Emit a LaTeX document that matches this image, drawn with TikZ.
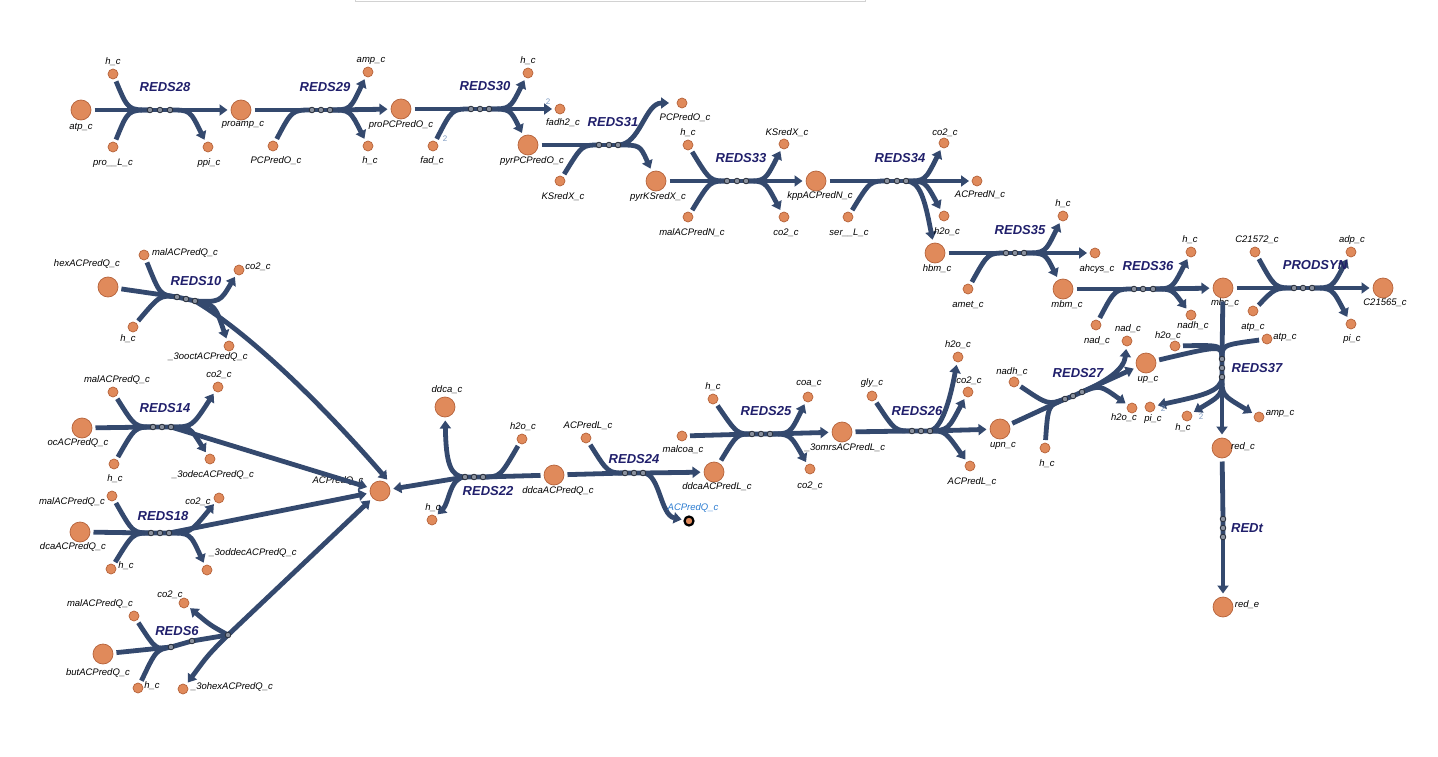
\documentclass[tikz,border=0pt]{standalone}
\usepackage{fontspec}
\setmainfont{Liberation Sans}
\usetikzlibrary{arrows.meta}

\definecolor{metfill}{HTML}{E08A5B}
\definecolor{metline}{HTML}{B5623A}
\definecolor{rxncol}{HTML}{34496E}
\definecolor{rlabcol}{HTML}{201F6B}
\definecolor{hubfill}{HTML}{8A919E}
\definecolor{hubline}{HTML}{262C38}
\definecolor{coefcol}{HTML}{7F9BC2}
\definecolor{linkblue}{HTML}{2A7BD0}

\begin{document}
\begin{tikzpicture}[
        x=1pt,
        y=-1pt,
        big/.style={circle, draw=metline, fill=metfill, line width=0.7pt,
            minimum size=20pt, inner sep=0pt, outer sep=3.5pt},
        small/.style={big, minimum size=10pt, outer sep=3pt},
        rxn/.style={draw=rxncol, line width=4.8pt},
        prod/.style={rxn, -{Triangle[length=8pt, width=11pt]}},
        hub/.style={circle, draw=hubline, fill=hubfill, line width=0.8pt,
            minimum size=5.6pt, inner sep=0pt},
        rlab/.style={font=\fontsize{13}{15}\selectfont\bfseries\itshape, text=rlabcol},
        mlab/.style={font=\fontsize{9.5}{10}\selectfont\itshape, inner sep=0pt},
        coef/.style={font=\fontsize{8}{9}\selectfont, text=coefcol, inner sep=0pt}
    ]
        \useasboundingbox (0,0) rectangle (1438,757);
        % edge of the search box at the top
        \draw[gray!35, line width=0.8pt] (355,0) -- (355,1.5) -- (865,1.5) -- (865,0);

        % ---------------- top row ----------------
        % REDS28
        \node[big] (atp) at (81,110) {};
        \node[small] (h28) at (113,74) {};
        \node[small] (proL) at (113,147) {};
        \node[big] (proamp) at (241,110) {};
        \node[small] (ppi) at (208,147) {};
        \coordinate (r28a) at (150,110); \coordinate (r28b) at (160,110); \coordinate (r28c) at (170,110);
        \draw[rxn] (atp) -- (r28a) -- (r28c);
        \draw[rxn] (h28) .. controls (128,110) .. (r28a);
        \draw[rxn] (proL) .. controls (128,110) .. (r28a);
        \draw[prod] (r28c) -- (proamp);
        \draw[prod] (r28c) .. controls (190,110) .. (ppi);
        \node[rlab] (l28) at (165,87) {REDS28};
        \node[mlab] (atpT) at (81,127) {atp\_c};
        \node[mlab] (h28T) at (113,62) {h\_c};
        \node[mlab] (proLT) at (113,163) {pro\_\_L\_c};
        \node[mlab] (proampT) at (243,125) {proamp\_c};
        \node[mlab] (ppiT) at (209,163) {ppi\_c};

        % REDS29
        \node[small] (pcpo29) at (273,146) {};
        \node[small] (amp) at (368,72) {};
        \node[small] (h29) at (368,146) {};
        \node[big] (propc) at (401,109) {};
        \coordinate (r29a) at (312,110); \coordinate (r29b) at (321,110); \coordinate (r29c) at (330,110);
        \draw[rxn] (proamp) -- (r29a) -- (r29c);
        \draw[rxn] (pcpo29) .. controls (292,110) .. (r29a);
        \draw[prod] (r29c) -- (propc);
        \draw[prod] (r29c) .. controls (350,110) .. (amp);
        \draw[prod] (r29c) .. controls (350,110) .. (h29);
        \node[rlab] (l29) at (325,87) {REDS29};
        \node[mlab] (pcpo29T) at (276,161) {PCPredO\_c};
        \node[mlab] (ampT) at (371,61) {amp\_c};
        \node[mlab] (h29T) at (370,161) {h\_c};
        \node[mlab] (propcT) at (401,125) {proPCPredO\_c};

        % REDS30
        \node[small] (fad) at (433,146) {};
        \node[small] (h30) at (528,73) {};
        \node[small] (fadh) at (560,109) {};
        \node[big] (pyrpc) at (528,145) {};
        \coordinate (r30a) at (471,109); \coordinate (r30b) at (480,109); \coordinate (r30c) at (489,109);
        \draw[rxn] (propc) -- (r30a) -- (r30c);
        \draw[rxn] (fad) .. controls (452,109) .. (r30a);
        \draw[prod] (r30c) -- (fadh);
        \draw[prod] (r30c) .. controls (510,109) .. (h30);
        \draw[prod] (r30c) .. controls (510,109) .. (pyrpc);
        \node[rlab] (l30) at (485,86) {REDS30};
        \node[coef] (fadN) at (445,139) {2};
        \node[coef] (fadhN) at (548,102) {2};
        \node[mlab] (fadT) at (432,161) {fad\_c};
        \node[mlab] (h30T) at (528,61) {h\_c};
        \node[mlab] (fadhT) at (563,123) {fadh2\_c};
        \node[mlab] (pyrpcT) at (532,161) {pyrPCPredO\_c};

        % REDS31
        \node[small] (ks31) at (560,181) {};
        \node[small] (pcpo31) at (682,103) {};
        \node[big] (pyrks) at (656,181) {};
        \coordinate (r31a) at (599,145); \coordinate (r31b) at (609,145); \coordinate (r31c) at (618,145);
        \draw[rxn] (pyrpc) -- (r31a) -- (r31c);
        \draw[rxn] (ks31) .. controls (582,145) .. (r31a);
        \draw[prod, shorten >=5pt] (r31c) .. controls (640,145) and (645,103) .. (pcpo31);
        \draw[prod] (r31c) .. controls (640,145) .. (pyrks);
        \node[rlab] (l31) at (613,122) {REDS31};
        \node[mlab] (ks31T) at (563,197) {KSredX\_c};
        \node[mlab] (pcpo31T) at (685,118) {PCPredO\_c};
        \node[mlab] (pyrksT) at (658,197) {pyrKSredX\_c};

        % REDS33
        \node[small] (h33) at (688,145) {};
        \node[small] (malN) at (688,217) {};
        \node[small] (ks33) at (784,144) {};
        \node[small] (co33) at (784,217) {};
        \node[big] (kpp) at (816,181) {};
        \coordinate (r33a) at (727,181); \coordinate (r33b) at (737,181); \coordinate (r33c) at (746,181);
        \draw[rxn] (pyrks) -- (r33a) -- (r33c);
        \draw[rxn] (h33) .. controls (710,181) .. (r33a);
        \draw[rxn] (malN) .. controls (710,181) .. (r33a);
        \draw[prod] (r33c) -- (kpp);
        \draw[prod] (r33c) .. controls (765,181) .. (ks33);
        \draw[prod] (r33c) .. controls (765,181) .. (co33);
        \node[rlab] (l33) at (741,158) {REDS33};
        \node[mlab] (h33T) at (688,133) {h\_c};
        \node[mlab] (malNT) at (692,233) {malACPredN\_c};
        \node[mlab] (ks33T) at (787,133) {KSredX\_c};
        \node[mlab] (co33T) at (786,233) {co2\_c};
        \node[mlab] (kppT) at (820,196) {kppACPredN\_c};

        % REDS34
        \node[small] (serL) at (848,217) {};
        \node[small] (co34) at (944,143) {};
        \node[small] (acpn) at (977,181) {};
        \node[small] (h2o34) at (944,216) {};
        \node[big] (hbm) at (935,253) {};
        \coordinate (r34a) at (887,181); \coordinate (r34b) at (897,181); \coordinate (r34c) at (906,181);
        \draw[rxn] (kpp) -- (r34a) -- (r34c);
        \draw[rxn] (serL) .. controls (870,181) .. (r34a);
        \draw[prod] (r34c) -- (acpn);
        \draw[prod] (r34c) .. controls (925,181) .. (co34);
        \draw[prod] (r34c) .. controls (925,181) .. (h2o34);
        \draw[prod] (r34c) .. controls (920,181) and (925,200) .. (hbm);
        \node[rlab] (l34) at (900,158) {REDS34};
        \node[mlab] (serLT) at (849,233) {ser\_\_L\_c};
        \node[mlab] (co34T) at (945,133) {co2\_c};
        \node[mlab] (acpnT) at (980,195) {ACPredN\_c};
        \node[mlab] (h2o34T) at (947,232) {h2o\_c};
        \node[mlab] (hbmT) at (937,269) {hbm\_c};

        % REDS35
        \node[small] (amet) at (968,289) {};
        \node[small] (h35) at (1063,216) {};
        \node[small] (ahcys) at (1095,253) {};
        \node[big] (mbm) at (1063,289) {};
        \coordinate (r35a) at (1006,253); \coordinate (r35b) at (1015,253); \coordinate (r35c) at (1024,253);
        \draw[rxn] (hbm) -- (r35a) -- (r35c);
        \draw[rxn] (amet) .. controls (988,253) .. (r35a);
        \draw[prod] (r35c) -- (ahcys);
        \draw[prod] (r35c) .. controls (1045,253) .. (h35);
        \draw[prod] (r35c) .. controls (1045,253) .. (mbm);
        \node[rlab] (l35) at (1020,230) {REDS35};
        \node[mlab] (ametT) at (968,305) {amet\_c};
        \node[mlab] (h35T) at (1063,204) {h\_c};
        \node[mlab] (ahcysT) at (1097,269) {ahcys\_c};
        \node[mlab] (mbmT) at (1067,305) {mbm\_c};

        % REDS36
        \node[small] (nad36) at (1096,325) {};
        \node[small] (h36) at (1191,252) {};
        \node[small] (nadh36) at (1191,315) {};
        \node[big] (mbc) at (1223,288) {};
        \coordinate (r36a) at (1134,289); \coordinate (r36b) at (1143,289); \coordinate (r36c) at (1153,289);
        \draw[rxn] (mbm) -- (r36a) -- (r36c);
        \draw[rxn] (nad36) .. controls (1115,289) .. (r36a);
        \draw[prod] (r36c) -- (mbc);
        \draw[prod] (r36c) .. controls (1172,289) .. (h36);
        \draw[prod] (r36c) .. controls (1172,289) .. (nadh36);
        \node[rlab] (l36) at (1148,266) {REDS36};
        \node[mlab] (nad36T) at (1097,341) {nad\_c};
        \node[mlab] (h36T) at (1190,240) {h\_c};
        \node[mlab] (nadh36T) at (1193,326) {nadh\_c};
        \node[mlab] (mbcT) at (1225,303) {mbc\_c};

        % PRODSYN
        \node[small] (c572) at (1255,252) {};
        \node[small] (atpP) at (1253,311) {};
        \node[small] (adp) at (1351,252) {};
        \node[small] (piP) at (1351,324) {};
        \node[big] (c565) at (1383,288) {};
        \coordinate (rpa) at (1294,288); \coordinate (rpb) at (1303,288); \coordinate (rpc) at (1312,288);
        \draw[rxn] (mbc) -- (rpa) -- (rpc);
        \draw[rxn] (c572) .. controls (1275,288) .. (rpa);
        \draw[rxn] (atpP) .. controls (1275,288) .. (rpa);
        \draw[prod] (rpc) -- (c565);
        \draw[prod] (rpc) .. controls (1332,288) .. (adp);
        \draw[prod] (rpc) .. controls (1332,288) .. (piP);
        \node[rlab] (lp) at (1315,265) {PRODSYN};
        \node[mlab] (c572T) at (1257,240) {C21572\_c};
        \node[mlab] (atpPT) at (1253,327) {atp\_c};
        \node[mlab] (adpT) at (1352,240) {adp\_c};
        \node[mlab] (piPT) at (1352,339) {pi\_c};
        \node[mlab] (c565T) at (1385,303) {C21565\_c};

        % ---------------- right column ----------------
        % REDS37
        \node[big] (up) at (1146,363) {};
        \node[small] (h2o37) at (1175,346) {};
        \node[small] (atp37) at (1267,339) {};
        \node[big] (redc) at (1222,448) {};
        \node[small] (pi37) at (1150,407) {};
        \node[small] (h37) at (1187,416) {};
        \node[small] (amp37) at (1259,417) {};
        \coordinate (r37a) at (1222,359); \coordinate (r37b) at (1222,368); \coordinate (r37c) at (1222,377);
        \draw[rxn] (mbc) -- (r37a) -- (r37c);
        \draw[rxn] (up) .. controls (1222,345) .. (r37a);
        \draw[rxn] (h2o37) .. controls (1222,345) .. (r37a);
        \draw[rxn] (atp37) .. controls (1222,345) .. (r37a);
        \draw[prod] (r37c) -- (redc);
        \draw[prod] (r37c) .. controls (1222,392) and (1200,396) .. (pi37);
        \draw[prod] (r37c) .. controls (1222,395) .. (h37);
        \draw[prod] (r37c) .. controls (1222,395) .. (amp37);
        \node[rlab] (l37) at (1257,368) {REDS37};
        \node[coef] (pi37N) at (1163,409) {2};
        \node[coef] (h37N) at (1201,417) {2};
        \node[mlab] (upT) at (1148,380) {up\_c};
        \node[mlab] (h2o37T) at (1168,336) {h2o\_c};
        \node[mlab] (atp37T) at (1285,337) {atp\_c};
        \node[mlab] (redcT) at (1243,447) {red\_c};
        \node[mlab] (pi37T) at (1153,419) {pi\_c};
        \node[mlab] (h37T) at (1183,428) {h\_c};
        \node[mlab] (amp37T) at (1280,414) {amp\_c};

        % REDt
        \node[big] (rede) at (1223,607) {};
        \coordinate (rta) at (1223,519); \coordinate (rtb) at (1223,528); \coordinate (rtc) at (1223,537);
        \draw[rxn] (redc) -- (rta) -- (rtc);
        \draw[prod] (rtc) -- (rede);
        \node[rlab] (lt) at (1247,528) {REDt};
        \node[mlab] (redeT) at (1247,605) {red\_e};

        % ---------------- middle row ----------------
        % REDS27
        \node[big] (upn) at (1000,429) {};
        \node[small] (nadh27) at (1014,382) {};
        \node[small] (h27) at (1045,448) {};
        \node[small] (nad27) at (1127,341) {};
        \node[small] (h2o27) at (1132,408) {};
        \coordinate (r27a) at (1065,399); \coordinate (r27b) at (1073,396); \coordinate (r27c) at (1082,392);
        \draw[rxn] (upn) -- (r27a) -- (r27b) -- (r27c);
        \draw[rxn] (nadh27) .. controls (1048,405) .. (r27a);
        \draw[rxn] (h27) .. controls (1048,405) .. (r27a);
        \draw[prod] (r27c) -- (up);
        \draw[prod] (r27c) .. controls (1105,382) and (1124,370) .. (nad27);
        \draw[prod] (r27c) .. controls (1100,385) .. (h2o27);
        \node[rlab] (l27) at (1078,373) {REDS27};
        \node[mlab] (upnT) at (1003,446) {upn\_c};
        \node[mlab] (nadh27T) at (1012,372) {nadh\_c};
        \node[mlab] (h27T) at (1047,464) {h\_c};
        \node[mlab] (nad27T) at (1128,329) {nad\_c};
        \node[mlab] (h2o27T) at (1124,418) {h2o\_c};

        % REDS26
        \node[big] (omrs) at (842,432) {};
        \node[small] (gly) at (872,396) {};
        \node[small] (h2o26) at (958,357) {};
        \node[small] (co26) at (968,392) {};
        \node[small] (acpl26) at (970,466) {};
        \coordinate (r26a) at (912,431); \coordinate (r26b) at (921,431); \coordinate (r26c) at (930,431);
        \draw[rxn] (omrs) -- (r26a) -- (r26c);
        \draw[rxn] (gly) .. controls (895,431) .. (r26a);
        \draw[prod] (r26c) -- (upn);
        \draw[prod] (r26c) .. controls (942,428) and (950,400) .. (h2o26);
        \draw[prod] (r26c) .. controls (948,430) .. (co26);
        \draw[prod] (r26c) .. controls (945,431) .. (acpl26);
        \node[rlab] (l26) at (917,411) {REDS26};
        \node[mlab] (omrsT) at (845,448) {\_3omrsACPredL\_c};
        \node[mlab] (glyT) at (872,383) {gly\_c};
        \node[mlab] (h2o26T) at (958,345) {h2o\_c};
        \node[mlab] (co26T) at (969,381) {co2\_c};
        \node[mlab] (acpl26T) at (972,482) {ACPredL\_c};

        % REDS25
        \node[big] (ddcal) at (714,472) {};
        \node[small] (malcoa) at (682,436) {};
        \node[small] (h25) at (713,399) {};
        \node[small] (coa) at (808,397) {};
        \node[small] (co25) at (810,469) {};
        \coordinate (r25a) at (752,434); \coordinate (r25b) at (761,434); \coordinate (r25c) at (770,434);
        \draw[rxn] (malcoa) -- (r25a) -- (r25c);
        \draw[rxn] (h25) .. controls (737,434) .. (r25a);
        \draw[rxn] (ddcal) .. controls (737,434) .. (r25a);
        \draw[prod] (r25c) -- (omrs);
        \draw[prod] (r25c) .. controls (790,434) .. (coa);
        \draw[prod] (r25c) .. controls (790,434) .. (co25);
        \node[rlab] (l25) at (766,411) {REDS25};
        \node[mlab] (ddcalT) at (717,487) {ddcaACPredL\_c};
        \node[mlab] (malcoaT) at (683,450) {malcoa\_c};
        \node[mlab] (h25T) at (713,387) {h\_c};
        \node[mlab] (coaT) at (809,384) {coa\_c};
        \node[mlab] (co25T) at (810,486) {co2\_c};

        % REDS24
        \node[big] (ddcaq) at (554,475) {};
        \node[small] (acpl24) at (586,438) {};
        \node[small, draw=black, line width=2.2pt, minimum size=9pt] (acpqb) at (689,521) {};
        \coordinate (r24a) at (625,473); \coordinate (r24b) at (634,473); \coordinate (r24c) at (643,473);
        \draw[rxn] (ddcaq) -- (r24a) -- (r24c);
        \draw[rxn] (acpl24) .. controls (608,473) .. (r24a);
        \draw[prod] (r24c) -- (ddcal);
        \draw[prod] (r24c) .. controls (660,473) and (660,515) .. (acpqb);
        \node[rlab] (l24) at (634,459) {REDS24};
        \node[mlab] (ddcaqT) at (558,491) {ddcaACPredQ\_c};
        \node[mlab] (acpl24T) at (588,426) {ACPredL\_c};
        \node[mlab, text=linkblue] (acpqbT) at (693,508) {ACPredQ\_c};

        % REDS22
        \node[small] (h2o22) at (522,439) {};
        \node[big] (ddca) at (445,407) {};
        \node[small] (h22) at (432,520) {};
        \node[big] (acpq) at (380,491) {};
        \coordinate (r22a) at (483,477); \coordinate (r22b) at (474,477); \coordinate (r22c) at (465,477);
        \draw[rxn] (ddcaq) -- (r22a) -- (r22c);
        \draw[rxn] (h2o22) .. controls (500,477) .. (r22a);
        \draw[prod] (r22c) -- (acpq);
        \draw[prod] (r22c) .. controls (450,477) and (446,462) .. (ddca);
        \draw[prod] (r22c) .. controls (450,477) and (449,503) .. (h22);
        \node[rlab] (l22) at (488,491) {REDS22};
        \node[mlab] (h2o22T) at (523,427) {h2o\_c};
        \node[mlab] (ddcaT) at (447,390) {ddca\_c};
        \node[mlab] (h22T) at (433,508) {h\_c};
        \node[mlab] (acpqT) at (338,481) {ACPredQ\_c};

        % ---------------- left column ----------------
        % REDS10
        \node[big] (hex) at (108,287) {};
        \node[small] (mal10) at (144,255) {};
        \node[small] (h10) at (133,327) {};
        \node[small] (co10) at (239,270) {};
        \node[small] (ooct) at (229,346) {};
        \coordinate (r10a) at (177,297); \coordinate (r10b) at (186,299); \coordinate (r10c) at (195,301);
        \draw[rxn] (hex) -- (r10a) -- (r10b) -- (r10c);
        \draw[rxn] (mal10) .. controls (160,295) .. (r10a);
        \draw[rxn] (h10) .. controls (160,295) .. (r10a);
        \draw[prod] (r10c) .. controls (260,340) and (340,425) .. (acpq.58);
        \draw[prod] (r10c) .. controls (220,302) .. (co10);
        \draw[prod] (r10c) .. controls (215,305) .. (ooct);
        \node[rlab] (l10) at (196,281) {REDS10};
        \node[mlab] (hexT) at (87,264) {hexACPredQ\_c};
        \node[mlab] (mal10T) at (185,253) {malACPredQ\_c};
        \node[mlab] (h10T) at (128,339) {h\_c};
        \node[mlab] (co10T) at (258,267) {co2\_c};
        \node[mlab] (ooctT) at (208,357) {\_3ooctACPredQ\_c};

        % REDS14
        \node[big] (oc) at (82,428) {};
        \node[small] (mal14) at (113,392) {};
        \node[small] (h14) at (114,464) {};
        \node[small] (co14) at (218,387) {};
        \node[small] (odec) at (210,459) {};
        \coordinate (r14a) at (153,427); \coordinate (r14b) at (162,427); \coordinate (r14c) at (171,427);
        \draw[rxn] (oc) -- (r14a) -- (r14c);
        \draw[rxn] (mal14) .. controls (135,427) .. (r14a);
        \draw[rxn] (h14) .. controls (135,427) .. (r14a);
        \draw[prod] (r14c) -- (acpq);
        \draw[prod] (r14c) .. controls (192,427) .. (co14);
        \draw[prod] (r14c) .. controls (190,427) .. (odec);
        \node[rlab] (l14) at (165,408) {REDS14};
        \node[mlab] (ocT) at (78,443) {ocACPredQ\_c};
        \node[mlab] (mal14T) at (117,380) {malACPredQ\_c};
        \node[mlab] (h14T) at (115,479) {h\_c};
        \node[mlab] (co14T) at (219,375) {co2\_c};
        \node[mlab] (odecT) at (213,475) {\_3odecACPredQ\_c};

        % REDS18
        \node[big] (dca) at (80,532) {};
        \node[small] (mal18) at (112,496) {};
        \node[small] (h18) at (111,569) {};
        \node[small] (co18) at (219,498) {};
        \node[small] (oddec) at (207,570) {};
        \coordinate (r18a) at (151,533); \coordinate (r18b) at (160,533); \coordinate (r18c) at (169,533);
        \draw[rxn] (dca) -- (r18a) -- (r18c);
        \draw[rxn] (mal18) .. controls (133,533) .. (r18a);
        \draw[rxn] (h18) .. controls (133,533) .. (r18a);
        \draw[prod] (r18c) -- (acpq);
        \draw[prod] (r18c) .. controls (190,533) .. (co18);
        \draw[prod] (r18c) .. controls (190,533) .. (oddec);
        \node[rlab] (l18) at (163,516) {REDS18};
        \node[mlab] (dcaT) at (73,547) {dcaACPredQ\_c};
        \node[mlab] (mal18T) at (72,502) {malACPredQ\_c};
        \node[mlab] (h18T) at (126,566) {h\_c};
        \node[mlab] (co18T) at (198,502) {co2\_c};
        \node[mlab] (oddecT) at (253,553) {\_3oddecACPredQ\_c};

        % REDS6
        \node[big] (but) at (103,654) {};
        \node[small] (mal6) at (134,616) {};
        \node[small] (h6) at (138,688) {};
        \node[small] (co6) at (184,603) {};
        \node[small] (ohex) at (183,689) {};
        \coordinate (r6a) at (171,647); \coordinate (r6b) at (192,641); \coordinate (r6c) at (228,635);
        \draw[rxn] (but) -- (r6a) -- (r6b) -- (r6c);
        \draw[rxn] (mal6) .. controls (156,650) .. (r6a);
        \draw[rxn] (h6) .. controls (156,650) .. (r6a);
        \draw[prod] (r6c) -- (acpq);
        \draw[prod] (r6c) .. controls (210,625) .. (co6);
        \draw[prod] (r6c) .. controls (208,655) .. (ohex);
        \node[rlab] (l6) at (177,631) {REDS6};
        \node[mlab] (butT) at (98,673) {butACPredQ\_c};
        \node[mlab] (mal6T) at (100,604) {malACPredQ\_c};
        \node[mlab] (h6T) at (152,686) {h\_c};
        \node[mlab] (co6T) at (170,595) {co2\_c};
        \node[mlab] (ohexT) at (232,687) {\_3ohexACPredQ\_c};

        % hub markers on every reaction
        \foreach \h in {r28,r29,r30,r31,r33,r34,r35,r36,rp,r37,rt,r27,r26,r25,r24,r22,r10,r14,r18,r6}
            \foreach \k in {a,b,c}
                \node[hub] (\h\k m) at (\h\k) {};
    \end{tikzpicture}
\end{document}
